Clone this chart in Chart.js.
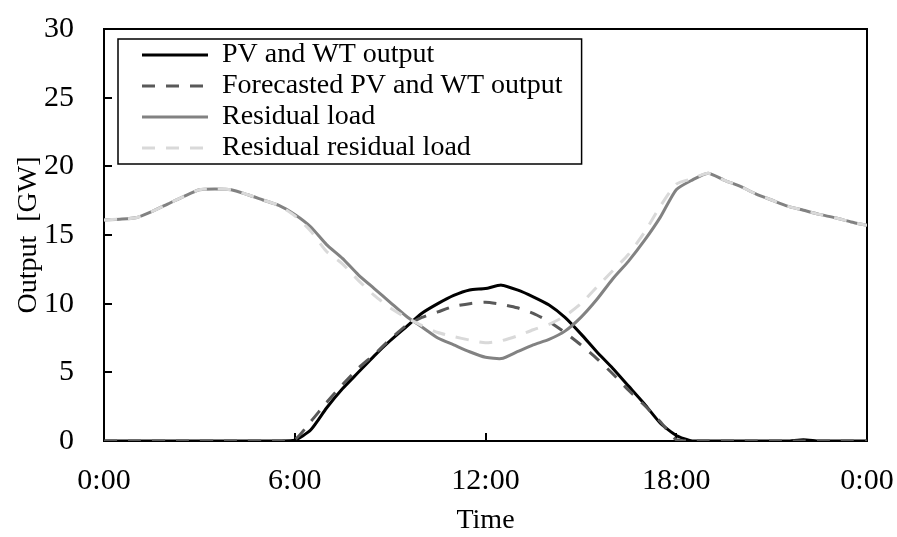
<!DOCTYPE html>
<html>
<head>
<meta charset="utf-8">
<script src="https://cdn.jsdelivr.net/npm/chart.js@4.4.0/dist/chart.umd.min.js"></script>
<style>
html, body { margin: 0; padding: 0; background: #fff; }
#wrap { width: 897px; height: 537px; }
</style>
</head>
<body>
<div id="wrap"><canvas id="chart"></canvas></div>
<script>
// time of day in hours, half-hour steps
const hours = [0, 0.5, 1, 1.5, 2, 2.5, 3, 3.5, 4, 4.5, 5, 5.5,
  6, 6.5, 7, 7.5, 8, 8.5, 9, 9.5, 10, 10.5, 11, 11.5,
  12, 12.5, 13, 13.5, 14, 14.5, 15, 15.5, 16, 16.5, 17, 17.5,
  18, 18.5, 19, 19.5, 20, 20.5, 21, 21.5, 22, 22.5, 23, 23.5, 24];

const pvWtOutput = [0, 0, 0, 0, 0, 0, 0, 0, 0, 0, 0, 0,
  0.05, 0.8, 2.4, 3.8, 5.0, 6.2, 7.3, 8.3, 9.3, 10.0, 10.6, 11.0,
  11.1, 11.35, 11.0, 10.5, 9.9, 9.0, 7.8, 6.5, 5.3, 4.0, 2.7, 1.3,
  0.4, 0, 0, 0, 0, 0, 0, 0, 0.1, 0, 0, 0, 0];

const forecastOutput = [0, 0, 0, 0, 0, 0, 0, 0, 0, 0, 0, 0,
  0.1, 1.4, 2.8, 4.1, 5.3, 6.3, 7.4, 8.4, 9.0, 9.4, 9.8, 10.0,
  10.1, 9.95, 9.7, 9.3, 8.7, 7.9, 7.0, 6.0, 4.9, 3.7, 2.6, 1.4,
  0.1, 0, 0, 0, 0, 0, 0, 0, 0, 0, 0, 0, 0];

const residualLoad = [16.1, 16.15, 16.25, 16.7, 17.25, 17.8, 18.3, 18.35, 18.3, 17.95, 17.55, 17.15,
  16.5, 15.6, 14.3, 13.3, 12.1, 11.1, 10.1, 9.1, 8.3, 7.5, 7.0, 6.5,
  6.1, 6.0, 6.5, 7.0, 7.4, 8.0, 9.0, 10.3, 11.8, 13.1, 14.6, 16.3,
  18.3, 19.0, 19.5, 19.0, 18.55, 18.0, 17.55, 17.1, 16.8, 16.5, 16.25, 15.95, 15.7];

const residualResidualLoad = [16.1, 16.15, 16.25, 16.7, 17.25, 17.8, 18.3, 18.35, 18.3, 17.95, 17.55, 17.15,
  16.4, 15.3, 13.8, 12.9, 11.7, 10.6, 9.7, 9.0, 8.4, 7.9, 7.6, 7.35,
  7.15, 7.3, 7.65, 8.1, 8.5, 9.1, 10.0, 11.2, 12.4, 13.6, 15.2, 17.1,
  18.7, 19.1, 19.5, 19.0, 18.55, 18.0, 17.55, 17.1, 16.8, 16.5, 16.25, 15.95, 15.7];

const seriesNames = ['PV and WT output', 'Forecasted PV and WT output', 'Residual load', 'Residual residual load'];

const serif = "'Liberation Serif', 'Times New Roman', serif";

function points(values) {
  return values.map((v, i) => ({ x: hours[i], y: v }));
}

// plot frame and inward tick marks
const framePlugin = {
  id: 'frame',
  beforeDatasetsDraw(chart) {
    const { ctx, chartArea: a, scales: { x, y } } = chart;
    ctx.save();
    ctx.strokeStyle = '#000';
    ctx.lineWidth = 2;
    ctx.strokeRect(a.left, a.top, a.right - a.left, a.bottom - a.top);
    ctx.beginPath();
    y.ticks.forEach(t => {
      const py = Math.round(y.getPixelForValue(t.value));
      ctx.moveTo(a.left, py);
      ctx.lineTo(a.left + 8, py);
    });
    x.ticks.forEach(t => {
      const px = Math.round(x.getPixelForValue(t.value));
      ctx.moveTo(px, a.bottom);
      ctx.lineTo(px, a.bottom - 8);
    });
    ctx.stroke();
    ctx.restore();
  }
};

// place the in-area legend near the top left corner and draw a box round it
const legendBox = {
  id: 'legendBox',
  afterLayout(chart) {
    const lg = chart.legend;
    const a = chart.chartArea;
    const w = lg.right - lg.left;
    lg.left = a.left + 35;
    lg.right = lg.left + w;
    lg.top = a.top + 9;
    lg.bottom = a.bottom;
  },
  afterDraw(chart) {
    const lg = chart.legend;
    const boxes = lg.legendHitBoxes;
    if (!boxes || !boxes.length) return;
    const ctx = chart.ctx;
    const x0 = lg.left + 3, y0 = lg.top + 1;
    const w = Math.max(...boxes.map(b => b.width));
    ctx.save();
    ctx.strokeStyle = '#000';
    ctx.lineWidth = 1.5;
    ctx.strokeRect(x0 - 24, y0, w + 24 + 19, 125);
    ctx.restore();
  }
};

new Chart(document.getElementById('chart'), {
  type: 'line',
  data: {
    datasets: [
      {
        label: seriesNames[0],
        data: points(pvWtOutput),
        borderColor: '#000000',
        borderWidth: 3,
        order: 3
      },
      {
        label: seriesNames[1],
        data: points(forecastOutput),
        borderColor: '#595959',
        borderWidth: 3,
        borderDash: [13, 11],
        order: 2
      },
      {
        label: seriesNames[2],
        data: points(residualLoad),
        borderColor: '#828282',
        borderWidth: 3,
        order: 1
      },
      {
        label: seriesNames[3],
        data: points(residualResidualLoad),
        borderColor: '#d9d9d9',
        borderWidth: 3,
        borderDash: [13, 11],
        order: 0
      }
    ]
  },
  options: {
    responsive: true,
    maintainAspectRatio: false,
    animation: false,
    devicePixelRatio: 1,
    layout: { padding: { top: 29, right: 30, left: 0, bottom: 0 } },
    elements: {
      point: { radius: 0, hoverRadius: 0 },
      line: { tension: 0.2, fill: false }
    },
    plugins: {
      tooltip: { enabled: false },
      legend: {
        position: 'chartArea',
        align: 'start',
        labels: {
          usePointStyle: true,
          pointStyle: 'line',
          pointStyleWidth: 66,
          padding: 3,
          color: '#000',
          font: { family: serif, size: 28 },
          generateLabels(chart) {
            const items = Chart.defaults.plugins.legend.labels.generateLabels(chart);
            items.forEach(it => {
              const ds = chart.data.datasets[it.datasetIndex];
              it.lineDash = ds.borderDash || [];
              it.lineWidth = ds.borderWidth;
              it.strokeStyle = ds.borderColor;
            });
            return items;
          },
          sort: (a, b) => a.datasetIndex - b.datasetIndex
        }
      }
    },
    scales: {
      x: {
        type: 'linear',
        min: 0,
        max: 24,
        border: { display: false },
        grid: { display: false, drawTicks: false },
        ticks: {
          stepSize: 6,
          padding: 22,
          color: '#000',
          font: { family: serif, size: 30 },
          callback: v => (v % 24) + ':00'
        },
        title: {
          display: true,
          text: 'Time',
          color: '#000',
          font: { family: serif, size: 28 },
          padding: 0
        },
        afterFit: s => { s.height = 96; s.paddingLeft = 0; s.paddingRight = 0; }
      },
      y: {
        min: 0,
        max: 30,
        border: { display: false },
        grid: { display: false, drawTicks: false },
        ticks: {
          stepSize: 5,
          padding: 30,
          color: '#000',
          font: { family: serif, size: 30 }
        },
        title: {
          display: true,
          text: 'Output  [GW]',
          color: '#000',
          font: { family: serif, size: 28 },
          padding: { top: 12, bottom: 0 }
        },
        afterFit: s => { s.width = 104; s.paddingTop = 0; s.paddingBottom = 0; }
      }
    }
  },
  plugins: [framePlugin, legendBox]
});
</script>
</body>
</html>
